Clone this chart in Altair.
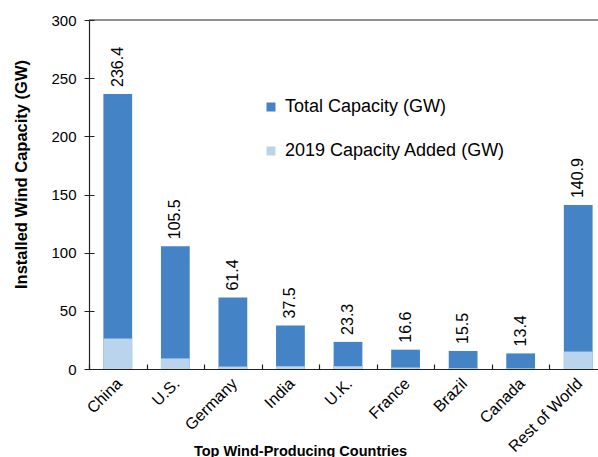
import altair as alt
import pandas as pd

countries = ["China", "U.S.", "Germany", "India", "U.K.", "France", "Brazil", "Canada", "Rest of World"]
total_gw = [236.4, 105.5, 61.4, 37.5, 23.3, 16.6, 15.5, 13.4, 140.9]
added_gw = [26.2, 9.1, 2.1, 2.4, 2.4, 1.3, 0.7, 0.6, 15.0]
series_names = ["Total Capacity (GW)", "2019 Capacity Added (GW)"]
series_colors = ["#4383C6", "#BAD4EE"]
y_ticks = [0, 50, 100, 150, 200, 250, 300]
chart_title = ["Global Wind Capacity"]

FONT = "Liberation Sans"
AX = "#222222"

total_df = pd.DataFrame({"country": countries, "value": total_gw, "series": series_names[0]})
added_df = pd.DataFrame({"country": countries, "value": added_gw, "series": series_names[1]})
label_df = pd.DataFrame({"country": countries, "value": total_gw,
                         "label": [f"{v:.1f}" for v in total_gw]})
title_df = pd.DataFrame({"t": chart_title})

x_scale = alt.Scale(domain=countries, range=[0, 518], paddingInner=0.5, paddingOuter=0.25)
y_scale = alt.Scale(domain=[0, 300], nice=False, zero=True)
color_scale = alt.Scale(domain=series_names, range=series_colors)

total_bars = alt.Chart(total_df).mark_bar().encode(
    x=alt.X("country:N", scale=x_scale, sort=countries,
            axis=alt.Axis(orient="bottom", title="Top Wind-Producing Countries",
                          labelAngle=-45, labelFontSize=16, labelFont=FONT, labelColor="black",
                          ticks=False, domainColor=AX, domainWidth=1.2, labelPadding=6,
                          labelOffset=-4,
                          titleFont=FONT, titleFontSize=14.5, titleFontWeight="bold",
                          titleColor="black", titleX=211, titleY=86, titleAlign="center",
                          titleBaseline="alphabetic")),
    y=alt.Y("value:Q", scale=y_scale,
            axis=alt.Axis(orient="left", values=y_ticks, title="Installed Wind Capacity (GW)",
                          grid=False, labelFontSize=15, labelFont=FONT, labelColor="black",
                          tickSize=5, tickColor=AX, domainColor=AX, domainWidth=1.2,
                          labelPadding=8, titleFont=FONT, titleFontSize=16.5,
                          titleFontWeight="bold", titleColor="black", titleAngle=270,
                          titleX=-63, titleY=154, titleAlign="center",
                          titleBaseline="alphabetic")),
    color=alt.Color("series:N", scale=color_scale,
                    legend=alt.Legend(title=None, orient="none", legendX=173, legendY=78,
                                      symbolType="square", symbolSize=81, symbolStrokeWidth=0,
                                      labelFont=FONT, labelFontSize=18, labelColor="black",
                                      labelOffset=5, labelLimit=0, rowPadding=26, padding=0)),
)

added_bars = alt.Chart(added_df).mark_bar().encode(
    x=alt.X("country:N", scale=x_scale, sort=countries, axis=None),
    y=alt.Y("value:Q", scale=y_scale, axis=None),
    color=alt.Color("series:N", scale=color_scale),
)

labels = alt.Chart(label_df).mark_text(
    angle=270, align="left", baseline="middle", dx=7, font=FONT, fontSize=16, color="black"
).encode(
    x=alt.X("country:N", scale=x_scale, sort=countries,
            axis=alt.Axis(orient="top", offset=-349, labels=False, domain=False, ticks=True,
                          tickSize=5, tickColor=AX, tickWidth=1.2, bandPosition=0,
                          tickOffset=-14.4, title=None)),
    y=alt.Y("value:Q", scale=y_scale, axis=None),
    text="label:N",
)

top_line = alt.Chart(pd.DataFrame({"v": [y_ticks[-1]]})).mark_rule(color=AX, strokeWidth=1.2).encode(
    y=alt.Y("v:Q", scale=y_scale,
            axis=alt.Axis(orient="right", offset=-509, values=y_ticks, labels=False,
                          domain=False, ticks=True, tickSize=5, tickColor=AX, grid=False,
                          title=None)),
)

title_text = alt.Chart(title_df).mark_text(
    align="left", baseline="alphabetic", font=FONT, fontSize=20.5, fontWeight="bold",
    color="#2F5597"
).encode(x=alt.value(107), y=alt.value(-24), text="t:N")

chart = alt.layer(total_bars, added_bars, labels, top_line, title_text).resolve_scale(
    x="shared", y="shared", color="shared"
).resolve_axis(x="independent", y="independent").properties(
    width=509, height=349,
    autosize=alt.AutoSizeParams(type="none"),
    padding={"left": 89, "top": 20, "right": 0, "bottom": 88},
).configure_view(strokeWidth=0)

chart.save("out.html", embed_options={"renderer": "svg", "actions": False})
